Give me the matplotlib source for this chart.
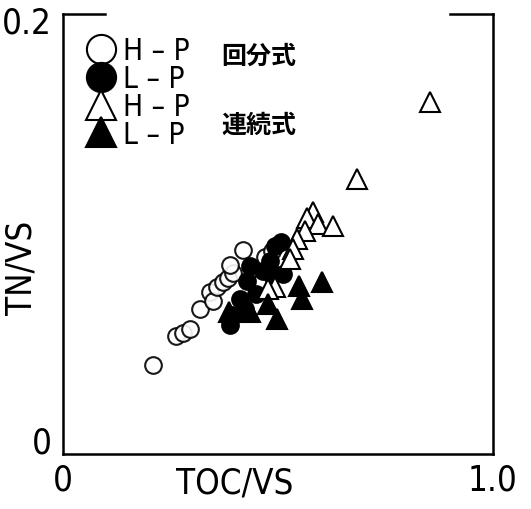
import matplotlib
matplotlib.use("Agg")
import matplotlib.pyplot as plt
from matplotlib.lines import Line2D

# H-P / L-P, batch (回分式) and continuous (連続式) runs
batch_hp_x = [0.209, 0.263, 0.279, 0.295, 0.319, 0.342, 0.349, 0.358, 0.372,
              0.384, 0.395, 0.419, 0.470, 0.486, 0.388, 0.453]
batch_hp_y = [0.0352, 0.0490, 0.0505, 0.0524, 0.0619, 0.0700, 0.0657, 0.0724, 0.0748,
              0.0767, 0.0790, 0.0900, 0.0867, 0.0895, 0.0829, 0.0738]

batch_lp_x = [0.388, 0.393, 0.412, 0.428, 0.435, 0.449, 0.465, 0.481, 0.493,
              0.507, 0.512, 0.488, 0.423]
batch_lp_y = [0.0543, 0.0590, 0.0667, 0.0752, 0.0824, 0.0690, 0.0800, 0.0848, 0.0919,
              0.0938, 0.0786, 0.0786, 0.0619]

cont_hp_x = [0.853, 0.684, 0.581, 0.567, 0.593, 0.628, 0.563, 0.544, 0.535,
             0.528, 0.493, 0.477]
cont_hp_y = [0.1605, 0.1238, 0.1081, 0.1052, 0.1024, 0.1014, 0.0990, 0.0952, 0.0905,
             0.0857, 0.0724, 0.0714]

cont_lp_x = [0.386, 0.435, 0.477, 0.498, 0.549, 0.556, 0.602]
cont_lp_y = [0.0605, 0.0605, 0.0643, 0.0571, 0.0729, 0.0667, 0.0748]

cjk_font = ['Noto Sans CJK JP', 'DejaVu Sans']
lab = dict(family='DejaVu Sans', stretch='condensed', weight='light')

fig = plt.figure(figsize=(5.31, 5.10), dpi=100)
ax = fig.add_axes([0.1186, 0.1078, 0.8098, 0.8628])

ax.plot(batch_hp_x, batch_hp_y, 'o', ms=12, mfc='white', mec='black', mew=1.5, alpha=0.9)
ax.plot(batch_lp_x, batch_lp_y, 'o', ms=12, mfc='black', mec='black', mew=1.5)
ax.plot(cont_hp_x, cont_hp_y, '^', ms=15, mfc='white', mec='black', mew=1.5)
ax.plot(cont_lp_x, cont_lp_y, '^', ms=15, mfc='black', mec='black', mew=1.5)

ax.set_xlim(0, 1.0)
ax.set_ylim(-0.0071, 0.2024)
ax.set_xticks([0, 1.0])
ax.set_xticklabels(['0', '1.0'], fontsize=25, **lab)
ax.set_yticks([0, 0.2])
ax.set_yticklabels(['0', '0.2'], fontsize=25, **lab)
ax.tick_params(axis='x', length=0, pad=6)
ax.tick_params(axis='y', length=0, pad=8)

ax.set_xlabel('TOC/VS', fontsize=25, **lab)
ax.xaxis.set_label_coords(0.40, -0.026)
ax.set_ylabel('TN/VS', fontsize=25, **lab)
ax.yaxis.set_label_coords(-0.058, 0.425)

for s in ['left', 'right', 'bottom', 'top']:
    ax.spines[s].set_linewidth(1.8)
ax.spines['top'].set_visible(False)
# broken top frame
ax.plot([0, 0.098], [1, 1], color='black', lw=1.8, transform=ax.transAxes, clip_on=False)
ax.plot([0.90, 1.0], [1, 1], color='black', lw=1.8, transform=ax.transAxes, clip_on=False)

handles = [
    Line2D([], [], ls='', marker='o', ms=21, mfc='white', mec='black', mew=1.5),
    Line2D([], [], ls='', marker='o', ms=21, mfc='black', mec='black', mew=1.5),
    Line2D([], [], ls='', marker='^', ms=21, mfc='white', mec='black', mew=1.5),
    Line2D([], [], ls='', marker='^', ms=21, mfc='black', mec='black', mew=1.5),
]
labels = ['H – P', 'L – P', 'H – P', 'L – P']
leg = ax.legend(handles, labels, loc='upper left', bbox_to_anchor=(0.025, 0.976),
                frameon=False, handlelength=1.0, handletextpad=0.25,
                labelspacing=-0.04, borderaxespad=0,
                prop={'family': 'DejaVu Sans', 'size': 21.5, 'stretch': 'condensed', 'weight': 'light'})

ax.text(0.368, 0.905, '回分式', transform=ax.transAxes, fontsize=18,
        fontweight='bold', family=cjk_font, va='center')
ax.text(0.368, 0.748, '連続式', transform=ax.transAxes, fontsize=18,
        fontweight='bold', family=cjk_font, va='center')

fig.savefig('out.png', dpi=100)
